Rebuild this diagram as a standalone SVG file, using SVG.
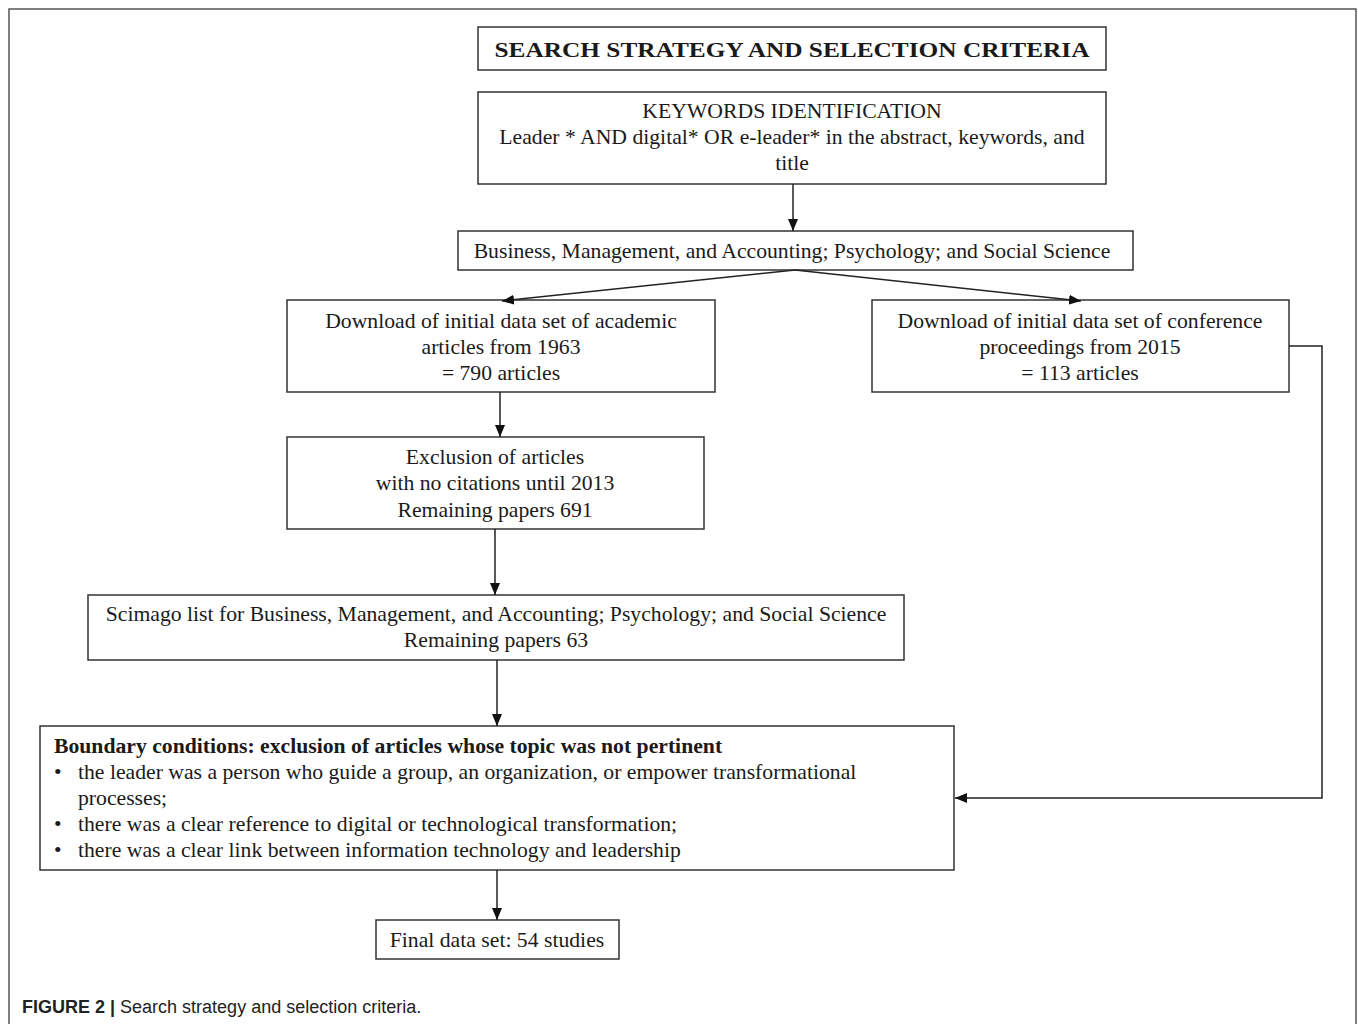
<svg xmlns="http://www.w3.org/2000/svg" width="1358" height="1024" viewBox="0 0 1358 1024">
<style>
.box{fill:#fff;stroke:#333;stroke-width:1.5}
.t{font-family:"Liberation Serif","Times New Roman",serif;font-size:21.7px;fill:#1a1a1a;text-anchor:middle}
.tl{font-family:"Liberation Serif","Times New Roman",serif;font-size:21.7px;fill:#1a1a1a}
.b{font-weight:bold}
.c{stroke:#222;stroke-width:1.5;fill:none;marker-end:url(#ah)}
.cap{font-family:"Liberation Sans",Arial,sans-serif;font-size:18px;fill:#222}
</style>
<defs>
<marker id="ah" viewBox="0 0 12 10" refX="12" refY="5" markerWidth="12" markerHeight="10" markerUnits="userSpaceOnUse" orient="auto"><path d="M0,0 L12,5 L0,10 z" fill="#111"/></marker>
</defs>
<rect x="0" y="0" width="1358" height="1024" fill="#fff"/>
<rect x="9" y="9" width="1347" height="1030" fill="none" stroke="#555" stroke-width="1.5"/>

<g id="title"><rect class="box" x="478" y="27" width="628" height="43"/><text class="t b" x="792" y="57" font-size="25" textLength="595" lengthAdjust="spacingAndGlyphs">SEARCH STRATEGY AND SELECTION CRITERIA</text></g>

<g id="keywords"><rect class="box" x="478" y="92" width="628" height="92"/>
<text class="t" x="792" y="118">KEYWORDS IDENTIFICATION</text>
<text class="t" x="792" y="144">Leader * AND digital* OR e-leader* in the abstract, keywords, and</text>
<text class="t" x="792" y="170">title</text></g>

<g id="subjects"><rect class="box" x="458" y="231" width="675" height="39"/>
<text class="t" x="792" y="258">Business, Management, and Accounting; Psychology; and Social Science</text></g>

<g id="academic"><rect class="box" x="287" y="300" width="428" height="92"/>
<text class="t" x="501" y="328">Download of initial data set of academic</text>
<text class="t" x="501" y="354">articles from 1963</text>
<text class="t" x="501" y="380">= 790 articles</text></g>

<g id="conference"><rect class="box" x="872" y="300" width="417" height="92"/>
<text class="t" x="1080" y="328">Download of initial data set of conference</text>
<text class="t" x="1080" y="354">proceedings from 2015</text>
<text class="t" x="1080" y="380">= 113 articles</text></g>

<g id="exclusion"><rect class="box" x="287" y="437" width="417" height="92"/>
<text class="t" x="495" y="464">Exclusion of articles</text>
<text class="t" x="495" y="490">with no citations until 2013</text>
<text class="t" x="495" y="517">Remaining papers 691</text></g>

<g id="scimago"><rect class="box" x="88" y="595" width="816" height="65"/>
<text class="t" x="496" y="621">Scimago list for Business, Management, and Accounting; Psychology; and Social Science</text>
<text class="t" x="496" y="647">Remaining papers 63</text></g>

<g id="boundary"><rect class="box" x="40" y="726" width="914" height="144"/>
<text class="tl b" x="54" y="753">Boundary conditions: exclusion of articles whose topic was not pertinent</text>
<text class="tl" x="54" y="779">•</text><text class="tl" x="78" y="779">the leader was a person who guide a group, an organization, or empower transformational</text>
<text class="tl" x="78" y="805">processes;</text>
<text class="tl" x="54" y="831">•</text><text class="tl" x="78" y="831">there was a clear reference to digital or technological transformation;</text>
<text class="tl" x="54" y="857">•</text><text class="tl" x="78" y="857">there was a clear link between information technology and leadership</text></g>

<g id="final"><rect class="box" x="376" y="920" width="243" height="39"/>
<text class="t" x="497" y="947">Final data set: 54 studies</text></g>

<g id="connectors">
<path class="c" d="M793,184 L793,231"/>
<path class="c" d="M795,270 L502,301"/>
<path class="c" d="M795,270 L1081,301"/>
<path class="c" d="M500,392 L500,437"/>
<path class="c" d="M495,529 L495,595"/>
<path class="c" d="M497,660 L497,726"/>
<path class="c" d="M497,870 L497,920"/>
<path class="c" d="M1289,346 L1322,346 L1322,798 L955,798"/>
</g>

<text class="cap" x="22" y="1013"><tspan font-weight="bold">FIGURE 2 |</tspan> Search strategy and selection criteria.</text>
</svg>
